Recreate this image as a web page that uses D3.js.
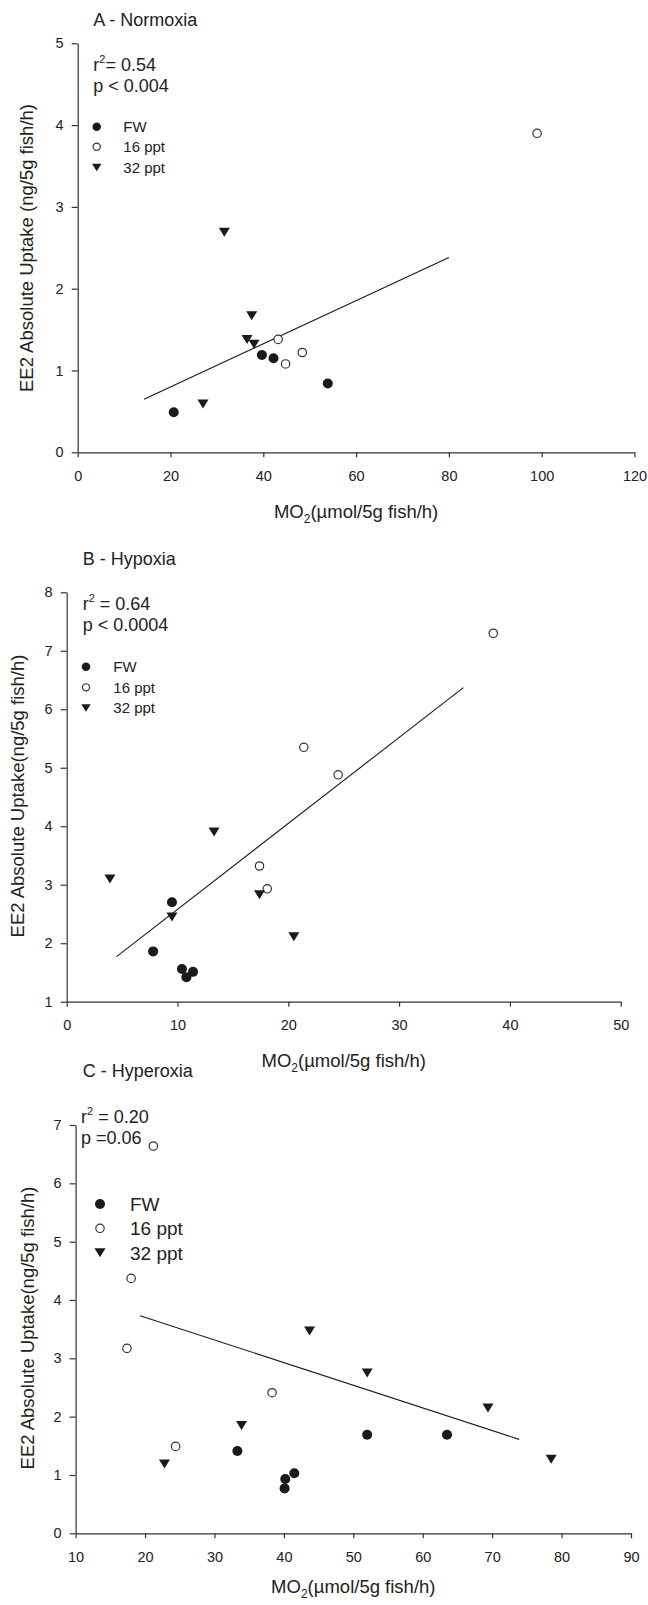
<!DOCTYPE html>
<html><head><meta charset="utf-8">
<script src="https://cdn.jsdelivr.net/npm/d3@7"></script>
<style>
body{margin:0;background:#fff}
text{font-family:"Liberation Sans",Arial,Helvetica,sans-serif;fill:#222}
</style>
</head><body>
<svg id="chart" width="648" height="1605"></svg>
<script>
// ---------- data ----------
const seriesNames = ["FW", "16 ppt", "32 ppt"];

// Panel A - Normoxia
const aFW  = [[20.7,0.49],[39.7,1.19],[42.2,1.15],[53.9,0.84]];
const a16  = [[43.2,1.38],[44.8,1.08],[48.4,1.22],[99.0,3.90]];
const a32  = [[31.6,2.69],[37.5,1.67],[36.5,1.38],[38.0,1.32],[27.0,0.59]];
const aFit = [[14.3,0.65],[80.0,2.38]];
const aXTicks = [0,20,40,60,80,100,120];
const aYTicks = [0,1,2,3,4,5];

// Panel B - Hypoxia
const bFW  = [[9.5,2.70],[7.8,1.86],[10.4,1.56],[10.8,1.42],[11.4,1.51]];
const b16  = [[17.4,3.32],[18.1,2.93],[21.4,5.35],[24.5,4.88],[38.5,7.30]];
const b32  = [[3.9,3.10],[13.3,3.90],[9.5,2.45],[17.4,2.83],[20.5,2.11]];
const bFit = [[4.5,1.77],[35.8,6.37]];
const bXTicks = [0,10,20,30,40,50];
const bYTicks = [1,2,3,4,5,6,7,8];

// Panel C - Hyperoxia
const cFW  = [[33.3,1.41],[40.2,0.93],[40.1,0.77],[41.5,1.03],[52.0,1.69],[63.5,1.69]];
const c16  = [[17.4,3.17],[24.4,1.49],[38.3,2.41],[18.0,4.37],[21.2,6.64]];
const c32  = [[43.7,3.47],[52.0,2.75],[69.4,2.15],[78.5,1.27],[33.9,1.85],[22.8,1.19]];
const cFit = [[19.3,3.73],[73.9,1.61]];
const cXTicks = [10,20,30,40,50,60,70,80,90];
const cYTicks = [0,1,2,3,4,5,6,7];

// ---------- drawing ----------
const svg = d3.select("#chart");
const INK = "#1a1a1a", AX = "#333";

function triPath(cx, cy, w, h){
  return `M${cx-w/2},${cy-h/2}L${cx+w/2},${cy-h/2}L${cx},${cy+h/2}Z`;
}
function drawMarker(g, kind, cx, cy, s){
  if(kind===0) g.append("circle").attr("cx",cx).attr("cy",cy).attr("r",5*s).attr("fill",INK);
  else if(kind===1) g.append("circle").attr("cx",cx).attr("cy",cy).attr("r",4.2*s).attr("fill","#fff").attr("stroke",AX).attr("stroke-width",1.2);
  else g.append("path").attr("d",triPath(cx,cy,11*s,9*s)).attr("fill",INK);
}

function panel(cfg){
  const x = d3.scaleLinear().domain(cfg.xDomain).range(cfg.xRange);
  const y = d3.scaleLinear().domain(cfg.yDomain).range(cfg.yRange);
  const g = svg.append("g");

  const xa = g.append("g").attr("transform",`translate(0,${cfg.yRange[0]})`)
    .call(d3.axisBottom(x).tickValues(cfg.xTicks).tickSize(5).tickSizeOuter(0).tickPadding(13).tickFormat(d3.format("d")));
  const ya = g.append("g").attr("transform",`translate(${cfg.xRange[0]},0)`)
    .call(d3.axisLeft(y).tickValues(cfg.yTicks).tickSize(6).tickSizeOuter(0).tickPadding(8).tickFormat(d3.format("d")));
  [xa,ya].forEach(a=>{
    a.select(".domain").attr("stroke",AX).attr("stroke-width",1.2);
    a.selectAll(".tick line").attr("stroke",AX).attr("stroke-width",1.2);
    a.selectAll(".tick text").attr("font-size",14.5).attr("fill","#222")
      .style("font-family",'"Liberation Sans",Arial,sans-serif');
  });

  // regression line
  g.append("path").datum(cfg.fit)
    .attr("d", d3.line().x(d=>x(d[0])).y(d=>y(d[1])))
    .attr("stroke",INK).attr("stroke-width",1.1).attr("fill","none");

  // points
  cfg.series.forEach((pts,k)=>{
    pts.forEach(p=>drawMarker(g,k,x(p[0]),y(p[1]),1));
  });

  // title
  g.append("text").attr("x",cfg.title[1]).attr("y",cfg.title[2]).attr("font-size",18).text(cfg.title[0]);

  // r2 / p annotations
  const r = g.append("text").attr("x",cfg.ann[0]).attr("y",cfg.ann[1]).attr("font-size",18);
  r.append("tspan").text("r");
  r.append("tspan").attr("font-size",11).attr("dy",-8).text("2");
  r.append("tspan").attr("dy",8).text(cfg.r2);
  g.append("text").attr("x",cfg.ann[0]).attr("y",cfg.ann[2]).attr("font-size",18).text(cfg.p);

  // legend
  cfg.legRows.forEach((ry,k)=>{
    drawMarker(g,k,cfg.legSym,ry,cfg.legScale);
    g.append("text").attr("x",cfg.legTxt).attr("y",ry).attr("dy","0.36em")
      .attr("font-size",cfg.legFont).text(seriesNames[k]);
  });

  // x-axis title
  const xc = (cfg.xRange[0]+cfg.xRange[1])/2;
  const xt = g.append("text").attr("x",xc).attr("y",cfg.xLabelY).attr("text-anchor","middle").attr("font-size",18.5);
  xt.append("tspan").text("MO");
  xt.append("tspan").attr("font-size",12).attr("dy",5).text("2");
  xt.append("tspan").attr("dy",-5).text("(\u00b5mol/5g fish/h)");

  // y-axis title
  g.append("text").attr("transform",`translate(${cfg.yLabel[1]},${cfg.yLabel[2]}) rotate(-90)`)
    .attr("text-anchor","middle").attr("font-size",18.5).text(cfg.yLabel[0]);
}

panel({
  xDomain:[0,120], xRange:[77.7,634.5], yDomain:[0,5], yRange:[452.3,43.3],
  xTicks:aXTicks, yTicks:aYTicks, series:[aFW,a16,a32], fit:aFit,
  title:["A - Normoxia",93.3,25.7], ann:[93.3,71,92], r2:"= 0.54", p:"p < 0.004",
  legRows:[126.7,146.7,167.5], legSym:96.7, legTxt:123.3, legFont:15, legScale:0.85,
  xLabelY:518, yLabel:["EE2 Absolute Uptake (ng/5g fish/h)",33,248]
});
panel({
  xDomain:[0,50], xRange:[66.7,620.7], yDomain:[1,8], yRange:[1001.7,592.3],
  xTicks:bXTicks, yTicks:bYTicks, series:[bFW,b16,b32], fit:bFit,
  title:["B - Hypoxia",82.7,565], ann:[82.7,610,631], r2:" = 0.64", p:"p < 0.0004",
  legRows:[666.7,687.3,708], legSym:86, legTxt:113.3, legFont:15, legScale:0.85,
  xLabelY:1067.3, yLabel:["EE2 Absolute Uptake(ng/5g fish/h)",24,796]
});
panel({
  xDomain:[10,90], xRange:[75.6,631], yDomain:[0,7], yRange:[1533.3,1125],
  xTicks:cXTicks, yTicks:cYTicks, series:[cFW,c16,c32], fit:cFit,
  title:["C - Hyperoxia",82.7,1077.3], ann:[81,1123.3,1144.3], r2:" = 0.20", p:"p =0.06",
  legRows:[1204,1228.3,1252.7], legSym:100, legTxt:130, legFont:19, legScale:1.0,
  xLabelY:1593, yLabel:["EE2 Absolute Uptake(ng/5g fish/h)",34,1328]
});
</script>
</body></html>
